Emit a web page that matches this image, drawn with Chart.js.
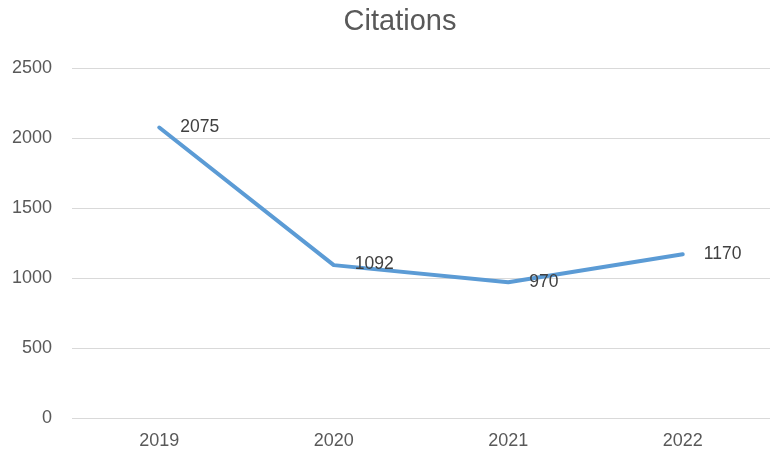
<!DOCTYPE html>
<html>
<head>
<meta charset="utf-8">
<script src="https://cdn.jsdelivr.net/npm/chart.js@4"></script>
<style>
html,body{margin:0;padding:0;background:#fff;}
#wrap{width:772px;height:451px;}
</style>
</head>
<body>
<div id="wrap"><canvas id="c" width="772" height="451"></canvas></div>
<script>
const categories = ["2019", "2020", "2021", "2022"];
const citations = [2075, 1092, 970, 1170];
const yTicks = [0, 500, 1000, 1500, 2000, 2500];
const chartTitle = "Citations";

const FONT = "'Liberation Sans', 'DejaVu Sans', sans-serif";

const labelPlugin = {
  id: 'pointLabels',
  afterLayout(chart) {
    // centre the title over the plot region as in the reference
    if (chart.titleBlock) {
      chart.titleBlock.left += 30;
    }
  },
  afterDatasetsDraw(chart) {
    const ctx = chart.ctx;
    const meta = chart.getDatasetMeta(0);
    ctx.save();
    ctx.font = "17.5px " + FONT;
    ctx.fillStyle = "#404040";
    ctx.textAlign = "left";
    ctx.textBaseline = "middle";
    meta.data.forEach((pt, i) => {
      ctx.fillText(String(citations[i]), pt.x + 21, pt.y - 0.5);
    });
    ctx.restore();
  }
};

new Chart(document.getElementById('c'), {
  type: 'line',
  data: {
    labels: categories,
    datasets: [{
      label: chartTitle,
      data: citations,
      borderColor: '#5B9BD5',
      backgroundColor: '#5B9BD5',
      borderWidth: 4,
      pointRadius: 0,
      tension: 0,
      borderCapStyle: 'round',
      borderJoinStyle: 'round',
      fill: false
    }]
  },
  options: {
    responsive: false,
    animation: false,
    devicePixelRatio: 1,
    layout: { padding: { left: 0, right: 2, top: 0, bottom: 0 } },
    plugins: {
      legend: { display: false },
      tooltip: { enabled: false },
      title: {
        display: true,
        text: chartTitle,
        color: '#595959',
        font: { family: FONT, size: 29, weight: 'normal' },
        padding: { top: 5, bottom: 28.2 }
      }
    },
    scales: {
      x: {
        offset: true,
        grid: { display: false, drawTicks: false },
        border: { display: false },
        ticks: {
          color: '#595959',
          font: { family: FONT, size: 18 },
          padding: 12,
          maxRotation: 0
        },
        afterFit(scale) { scale.height = 33; }
      },
      y: {
        min: 0,
        max: 2500,
        afterBuildTicks(scale) { scale.ticks = yTicks.map(v => ({ value: v })); },
        grid: { color: '#d9d9d9', lineWidth: 1, drawTicks: false },
        border: { display: false },
        ticks: {
          color: '#595959',
          font: { family: FONT, size: 18 },
          padding: 20,
          callback: (v) => String(v)
        },
        afterFit(scale) { scale.width = 72; }
      }
    }
  },
  plugins: [labelPlugin]
});
</script>
</body>
</html>
